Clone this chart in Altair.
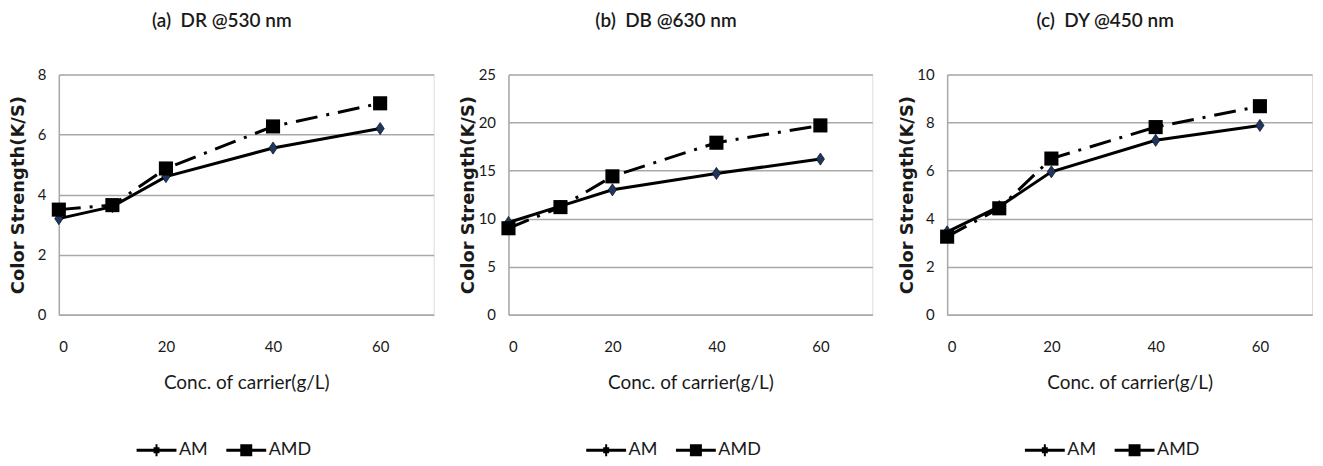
import altair as alt
import pandas as pd

# ---- data ----
conc = [0, 10, 20, 40, 60]
series = ["AM", "AMD"]

dr_am = [3.2, 3.6, 4.6, 5.55, 6.2]
dr_amd = [3.5, 3.65, 4.87, 6.27, 7.04]
db_am = [9.6, 11.3, 13.0, 14.7, 16.2]
db_amd = [9.0, 11.2, 14.4, 17.9, 19.7]
dy_am = [3.45, 4.5, 5.95, 7.26, 7.88]
dy_amd = [3.25, 4.43, 6.5, 7.81, 8.68]

panel_titles = ["(a)\u00a0\u00a0DR @530 nm", "(b)\u00a0\u00a0DB @630 nm", "(c)\u00a0\u00a0DY @450 nm"]
y_max = [8, 25, 10]
y_ticks = [[0, 2, 4, 6, 8], [0, 5, 10, 15, 20, 25], [0, 2, 4, 6, 8, 10]]
x_ticks = [0, 20, 40, 60]
x_max = 70
x_title = "Conc. of carrier(g/L)"
y_title = "Color Strength(K/S)"

# ---- styling ----
GRID = "#a9a9a9"
TXT = "#1a1a1a"
H = 241
widths = [376, 365, 366]
DIAMOND = "M0,-1L0.68,0L0,1L-0.68,0Z"
# legend keys: a line through a marker, drawn with strokes only
LEG_AM = ("M-1,0H1"
          "M-0.05,-0.225H0.05M-0.15,-0.075H0.15M-0.2,0H0.2"
          "M-0.15,0.075H0.15M-0.05,0.225H0.05")
LEG_AMD = ("M-1,0H1"
           "M-0.3,-0.225H0.3M-0.3,-0.075H0.3M-0.3,0.075H0.3M-0.3,0.225H0.3")


def panel(am, amd, title, ymax, yt, w):
    df = pd.DataFrame({
        "conc": conc + conc,
        "ks": am + amd,
        "series": [series[0]] * len(conc) + [series[1]] * len(conc),
    })
    x = alt.X(
        "conc:Q",
        scale=alt.Scale(domain=[0, x_max], nice=False, zero=True),
        axis=alt.Axis(
            values=x_ticks, title=x_title, grid=False, ticks=False, tickSize=0,
            domain=True, domainColor=GRID, domainWidth=1.5,
            labelPadding=25, labelFontSize=15, labelFont="Lato", labelColor=TXT,
            titleFont="Lato", titleFontSize=19, titleFontWeight="normal",
            titleColor=TXT, titlePadding=19,
        ),
    )
    y = alt.Y(
        "ks:Q",
        scale=alt.Scale(domain=[0, ymax], nice=False, zero=True),
        axis=alt.Axis(
            values=yt, title=y_title, grid=True, gridColor=GRID, gridWidth=1.5,
            ticks=False, tickSize=0, domain=True, domainColor=GRID, domainWidth=1.5,
            labelPadding=13, labelFontSize=15, labelFont="Lato", labelColor=TXT,
            titleFont="DejaVu Sans", titleFontSize=18, titleFontWeight="bold",
            titleColor=TXT, titleX=-31, titleY=H / 2,
        ),
    )
    base = alt.Chart(df)
    am_data = base.transform_filter(alt.datum.series == series[0])
    amd_data = base.transform_filter(alt.datum.series == series[1])
    line_am = am_data.mark_line(color="black", strokeWidth=3).encode(x=x, y=y)
    line_amd = amd_data.mark_line(
        color="black", strokeWidth=3, strokeDash=[22, 9, 3, 9]
    ).encode(x=x, y=y)
    pts_am = am_data.mark_point(
        filled=True, opacity=1, size=150, shape=DIAMOND, color="#1f3760",
        stroke="black", strokeWidth=0.6,
    ).encode(x=x, y=y)
    pts_amd = amd_data.mark_point(
        filled=True, opacity=1, size=200, shape="square", color="black"
    ).encode(x=x, y=y)
    # legend key layer: zero-size marks, only supplies the legend
    legend_key = base.mark_point(
        filled=False, opacity=1, color="black", strokeWidth=3, size=0
    ).encode(
        x=x, y=y,
        shape=alt.Shape(
            "series:N",
            scale=alt.Scale(domain=series, range=[LEG_AM, LEG_AMD]),
            legend=alt.Legend(
                title=None, orient="none", legendX=76.5, legendY=355.5,
                direction="horizontal", symbolSize=1600, symbolStrokeWidth=3,
                symbolStrokeColor="black", symbolOpacity=1,
                labelFont="Lato", labelFontSize=18, labelColor=TXT,
                labelOffset=1, columnPadding=12, gridAlign="none",
            ),
        ),
    )
    return alt.layer(line_am, line_amd, pts_am, pts_amd, legend_key).properties(
        width=w, height=H,
        title=alt.TitleParams(
            title, anchor="middle", frame="bounds", font="Lato", fontSize=19,
            fontWeight=600, color=TXT, offset=37,
        ),
    )


charts = [
    panel(dr_am, dr_amd, panel_titles[0], y_max[0], y_ticks[0], widths[0]),
    panel(db_am, db_amd, panel_titles[1], y_max[1], y_ticks[1], widths[1]),
    panel(dy_am, dy_amd, panel_titles[2], y_max[2], y_ticks[2], widths[2]),
]

chart = alt.hconcat(*charts, spacing=24).resolve_scale(
    shape="independent"
).resolve_legend(shape="independent").properties(
    padding={"left": 9, "top": 10, "right": 10, "bottom": 0}
).configure_view(stroke=None).configure(background="white")

chart.save("out.html", embed_options={"renderer": "svg", "actions": False})
